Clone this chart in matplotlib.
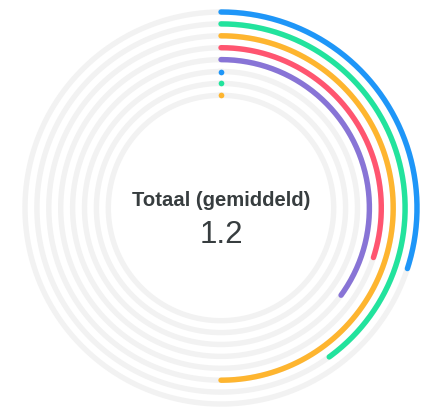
import numpy as np
import matplotlib.pyplot as plt

# radial bar values (percent of full circle), outer ring first
series = ["A", "B", "C", "D", "E", "F", "G", "H"]
values = [30, 40, 50, 30, 35, 0, 0, 0]
colors = ["#1E96F8", "#22E39D", "#FEB52F", "#FF5570", "#8874D6",
          "#1E96F8", "#22E39D", "#FEB52F"]
label_title = "Totaal (gemiddeld)"
label_value = "1.2"

W, H = 423, 408
cx, cy = 221, 208        # center in pixels (from top-left)
half = 200               # axes half-size in pixels
r_outer = 196
step = 11.9
lw = 3.9

fig = plt.figure(figsize=(W / 100, H / 100), dpi=100)
ax = fig.add_axes([(cx - half) / W, (H - cy - half) / H, 2 * half / W, 2 * half / H],
                  projection="polar")
ax.set_theta_zero_location("N")
ax.set_theta_direction(-1)
ax.set_rlim(0, half)
ax.axis("off")

full = np.linspace(0, 2 * np.pi, 400)
for i, (v, c) in enumerate(zip(values, colors)):
    r = r_outer - i * step
    ax.plot(full, np.full_like(full, r), color="#F2F2F2", lw=lw, zorder=1)
    if v > 0:
        th = np.linspace(0, 2 * np.pi * v / 100, 200)
        ax.plot(th, np.full_like(th, r), color=c, lw=lw,
                solid_capstyle="round", zorder=2)
    else:
        ax.plot([0], [r], "o", color=c, ms=lw * 1.05, mec="none", zorder=2)

fig.text(cx / W, 1 - 201 / H, label_title, ha="center", va="center",
         fontsize=14.6, fontweight="bold", color="#373D3F",
         family="Liberation Sans")
fig.text(cx / W, 1 - 235 / H, label_value, ha="center", va="center",
         fontsize=22.5, color="#373D3F", family="Liberation Sans")

fig.savefig("out.png", dpi=100)
